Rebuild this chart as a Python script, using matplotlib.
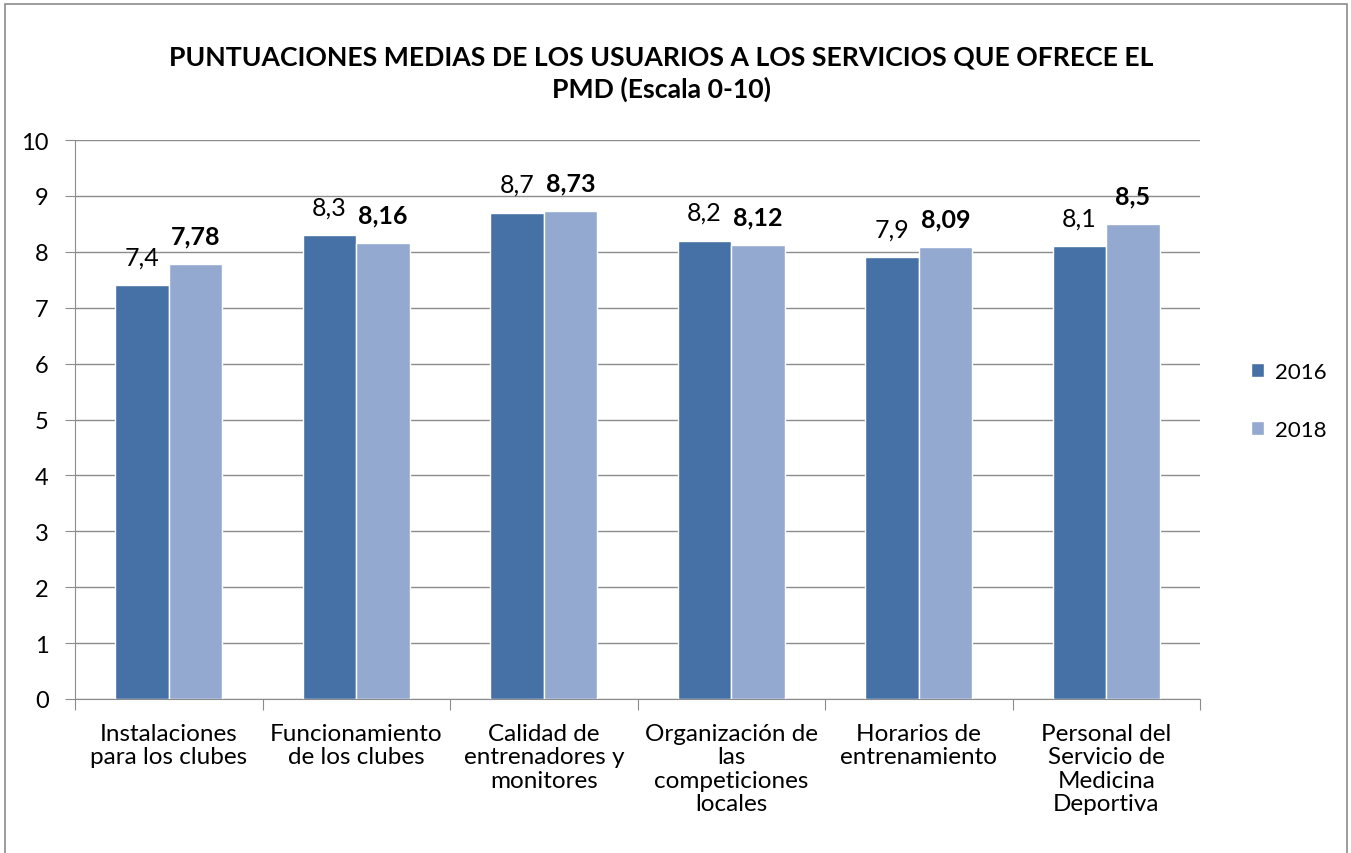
import numpy as np
import matplotlib.pyplot as plt
from matplotlib.patches import Rectangle

plt.rcParams['font.family'] = ['Lato', 'DejaVu Sans']

categories = ['Instalaciones\npara los clubes', 'Funcionamiento\nde los clubes',
              'Calidad de\nentrenadores y\nmonitores', 'Organización de\nlas\ncompeticiones\nlocales',
              'Horarios de\nentrenamiento', 'Personal del\nServicio de\nMedicina\nDeportiva']
vals_2016 = [7.4, 8.3, 8.7, 8.2, 7.9, 8.1]
vals_2018 = [7.78, 8.16, 8.73, 8.12, 8.09, 8.5]
labels_2016 = ['7,4', '8,3', '8,7', '8,2', '7,9', '8,1']
labels_2018 = ['7,78', '8,16', '8,73', '8,12', '8,09', '8,5']

c16 = '#4571a6'
c18 = '#94a9d0'
grid = '#8c8c8c'

fig = plt.figure(figsize=(13.51, 8.54), dpi=100)
ax = fig.add_axes([75 / 1351, 1 - 700 / 854, 1125 / 1351, 559 / 854])

x = np.arange(len(categories))
w = 1 / 3.5
b1 = ax.bar(x - w / 2, vals_2016, w, color=c16, edgecolor='white', linewidth=1, label='2016', zorder=3)
b2 = ax.bar(x + w / 2, vals_2018, w, color=c18, edgecolor='white', linewidth=1, label='2018', zorder=3)

for rect, t in zip(b1, labels_2016):
    ax.text(rect.get_x() + rect.get_width() / 2, rect.get_height() + 0.3, t,
            ha='center', va='bottom', fontsize=18)
for rect, t in zip(b2, labels_2018):
    ax.text(rect.get_x() + rect.get_width() / 2, rect.get_height() + 0.3, t,
            ha='center', va='bottom', fontsize=18, fontweight='bold')

ax.set_xlim(-0.5, len(categories) - 0.5)
ax.set_ylim(0, 10)
ax.set_yticks(range(0, 11))
ax.yaxis.grid(True, color=grid, linewidth=1)
ax.set_axisbelow(True)
ax.tick_params(axis='y', labelsize=17, length=7, color=grid, pad=12)
ax.set_xticks(np.arange(-0.5, len(categories)), minor=False)
ax.set_xticklabels([])
ax.tick_params(axis='x', length=8, color=grid)
ax.set_xticks(x, minor=True)
ax.set_xticklabels(categories, minor=True, fontsize=17.5, linespacing=1.15)
ax.tick_params(axis='x', which='minor', length=0, pad=17)
for s in ['top', 'right']:
    ax.spines[s].set_visible(False)
for s in ['left', 'bottom']:
    ax.spines[s].set_color(grid)

fig.text(661 / 1351, 1 - 74 / 854, 'PUNTUACIONES MEDIAS DE LOS USUARIOS A LOS SERVICIOS QUE OFRECE EL\nPMD (Escala 0-10)',
         ha='center', va='center', fontsize=19.2, fontweight='bold', linespacing=1.35)

fig.legend(handles=[b1, b2], labels=['2016', '2018'], loc='center left',
           bbox_to_anchor=(1231 / 1351, 1 - 402 / 854), frameon=False, fontsize=16,
           handlelength=0.6, handleheight=0.6, handletextpad=0.5, labelspacing=1.7)

fig.patches.append(Rectangle((5 / 1351, -0.01), 1342 / 1351, 1 - 5 / 854 + 0.01,
                             transform=fig.transFigure, fill=False, edgecolor='#8c8c8c', linewidth=1.2))

fig.savefig('out.png', dpi=100)
